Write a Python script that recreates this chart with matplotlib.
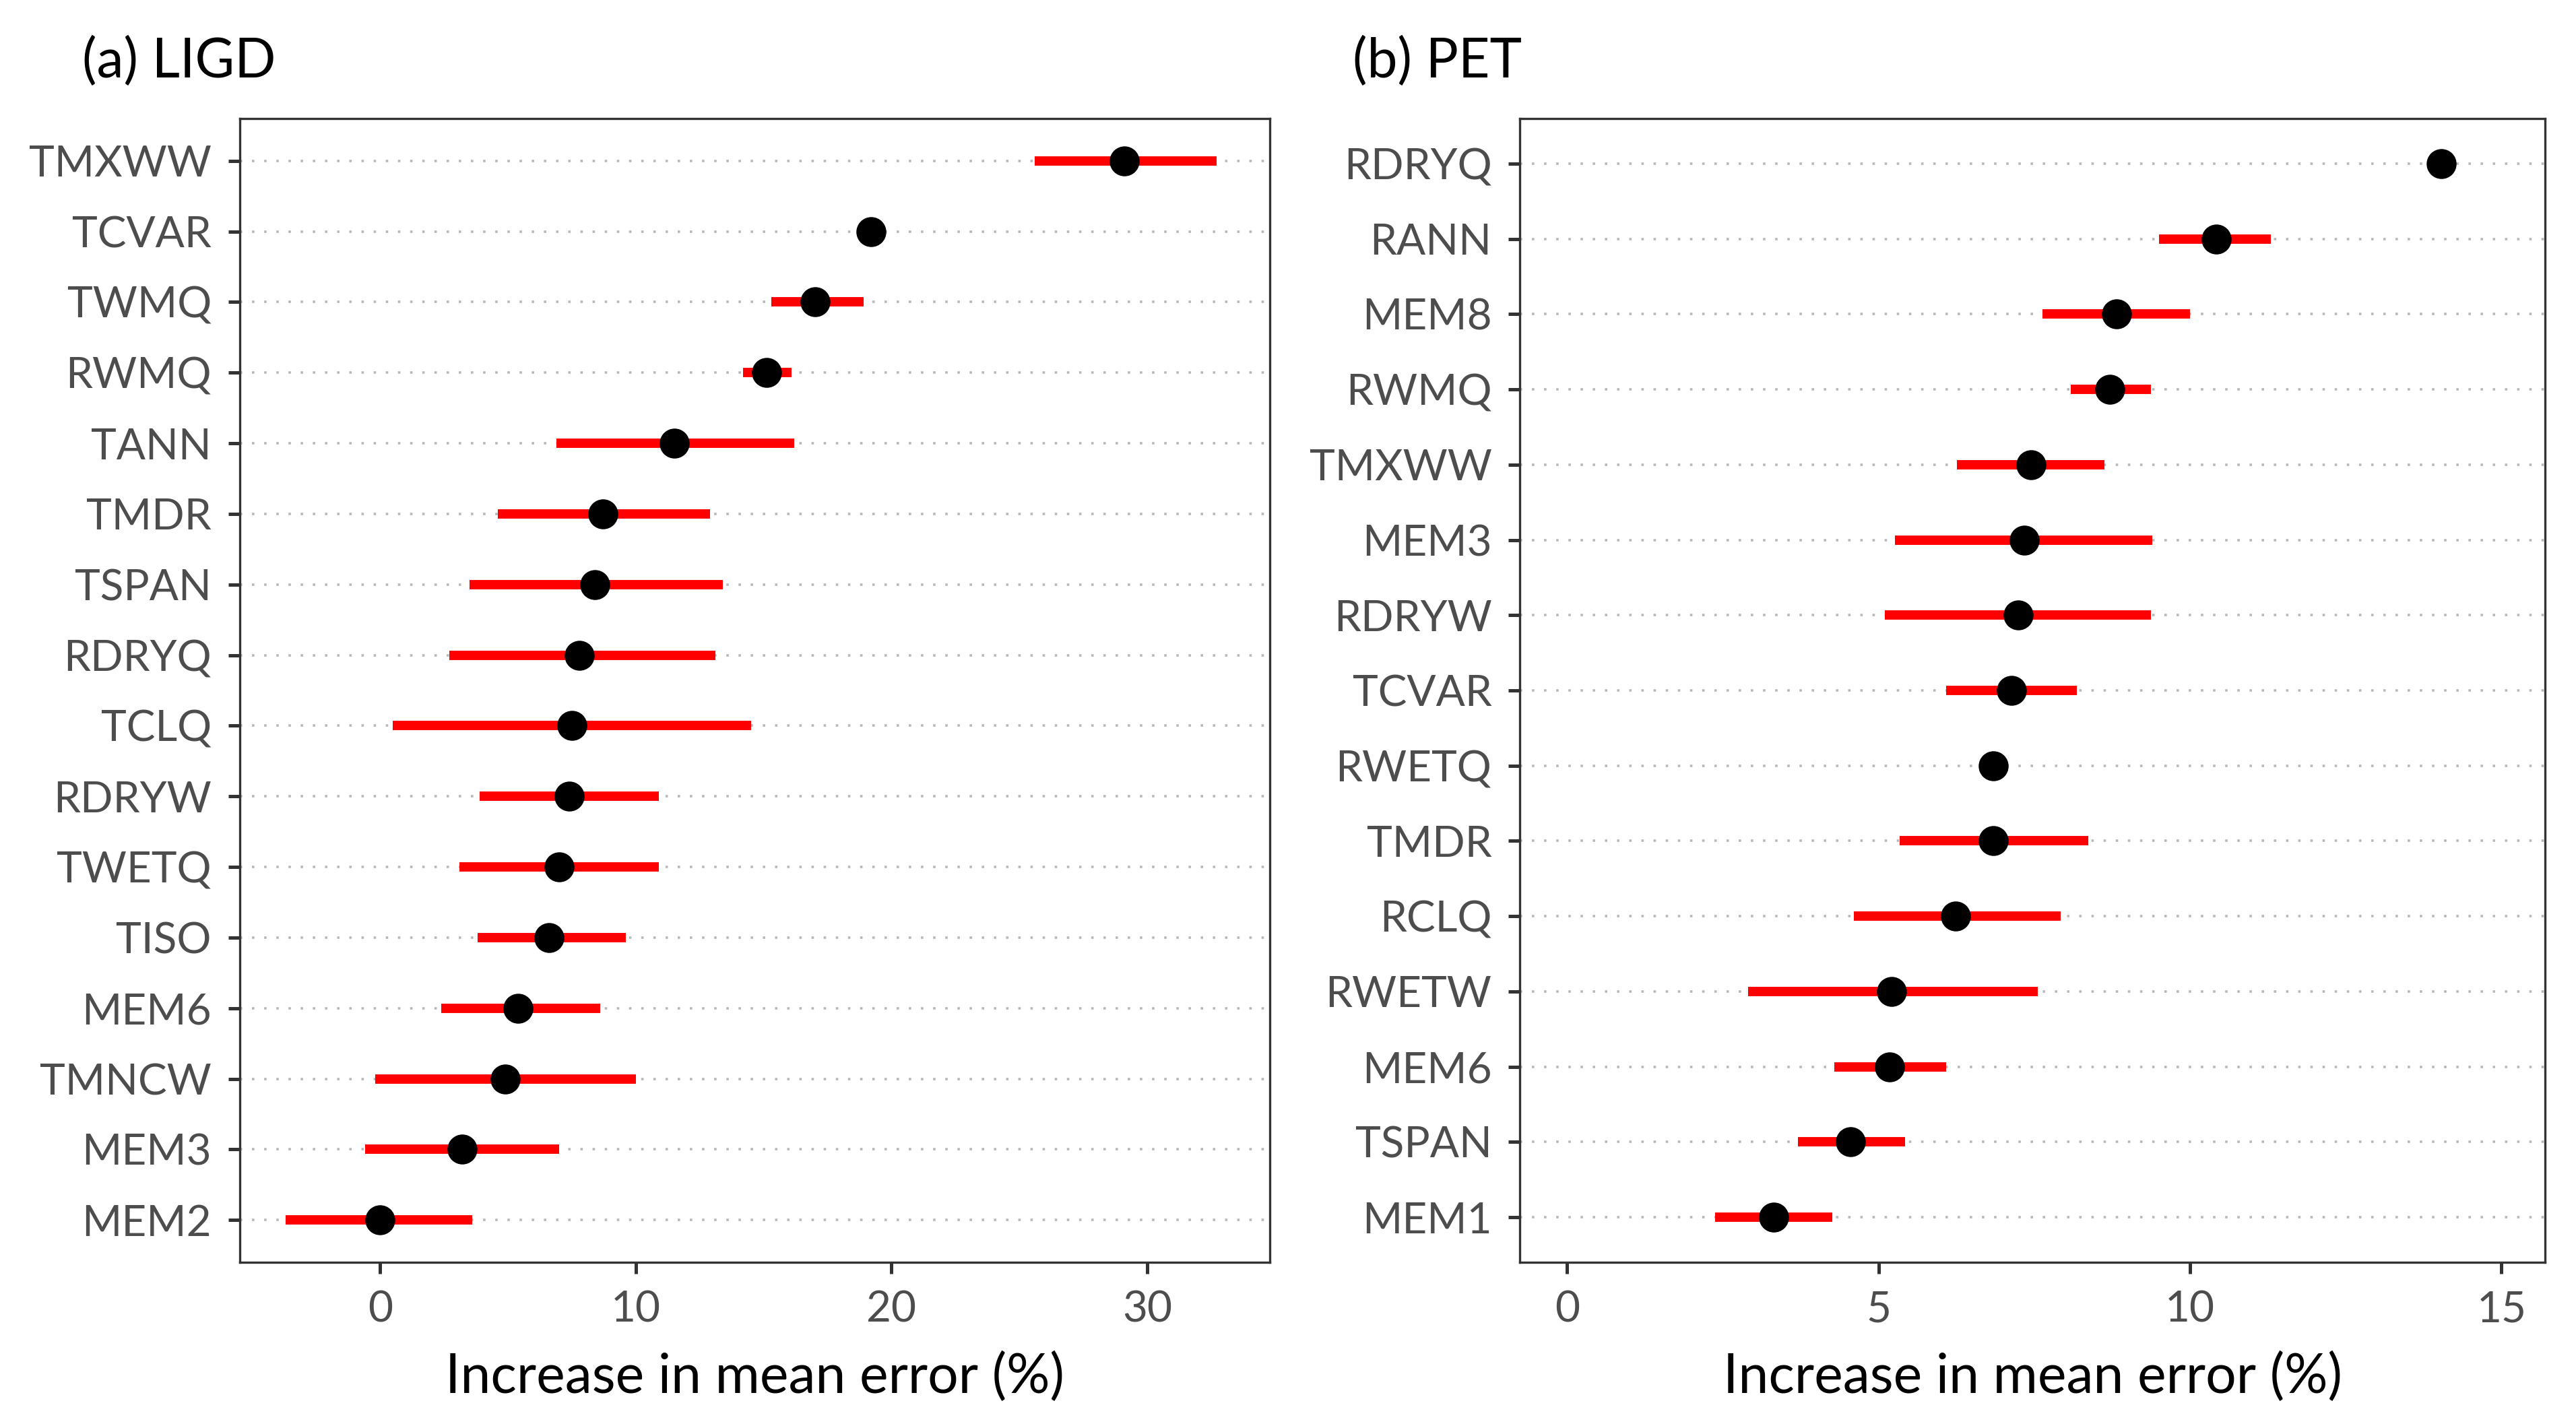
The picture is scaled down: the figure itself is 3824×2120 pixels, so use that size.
import matplotlib
matplotlib.use("Agg")
import matplotlib.pyplot as plt

# (a) LIGD, top to bottom
ligd_vars = ["TMXWW", "TCVAR", "TWMQ", "RWMQ", "TANN", "TMDR", "TSPAN", "RDRYQ",
             "TCLQ", "RDRYW", "TWETQ", "TISO", "MEM6", "TMNCW", "MEM3", "MEM2"]
ligd_mean = [29.1, 19.2, 17.0, 15.1, 11.5, 8.7, 8.4, 7.8, 7.5, 7.4, 7.0, 6.6, 5.4, 4.9, 3.2, 0.0]
ligd_lo = [25.6, 19.2, 15.3, 14.2, 6.9, 4.6, 3.5, 2.7, 0.5, 3.9, 3.1, 3.8, 2.4, -0.2, -0.6, -3.7]
ligd_hi = [32.7, 19.2, 18.9, 16.1, 16.2, 12.9, 13.4, 13.1, 14.5, 10.9, 10.9, 9.6, 8.6, 10.0, 7.0, 3.6]

# (b) PET, top to bottom
pet_vars = ["RDRYQ", "RANN", "MEM8", "RWMQ", "TMXWW", "MEM3", "RDRYW", "TCVAR",
            "RWETQ", "TMDR", "RCLQ", "RWETW", "MEM6", "TSPAN", "MEM1"]
pet_mean = [14.03, 10.42, 8.82, 8.71, 7.45, 7.34, 7.24, 7.13, 6.84, 6.84, 6.24, 5.21, 5.18, 4.55, 3.32]
pet_lo = [14.03, 9.5, 7.63, 8.08, 6.26, 5.26, 5.1, 6.08, 6.84, 5.34, 4.6, 2.9, 4.29, 3.71, 2.37]
pet_hi = [14.03, 11.3, 10.0, 9.37, 8.63, 9.39, 9.37, 8.18, 6.84, 8.37, 7.92, 7.55, 6.08, 5.42, 4.26]

plt.rcParams.update({"font.family": ["Lato", "DejaVu Sans"]})

fig = plt.figure(figsize=(19.12, 10.6), dpi=200)
ax_a = fig.add_axes([0.093, 0.116, 0.400, 0.801])
ax_b = fig.add_axes([0.590, 0.116, 0.398, 0.801])


def panel(ax, names, mean, lo, hi, xlim, xticks, title, title_x):
    n = len(names)
    ys = list(range(n - 1, -1, -1))
    for y in ys:
        ax.axhline(y, color="#b8b8b8", linestyle=(0, (1, 4)), linewidth=1.3, zorder=0)
    ax.hlines(ys, lo, hi, color="#ff0000", linewidth=5, zorder=2)
    ax.plot(mean, ys, "o", color="black", markersize=15, zorder=3)
    ax.set_yticks(ys)
    ax.set_yticklabels(names)
    ax.set_ylim(-0.6, n - 0.4)
    ax.set_xlim(*xlim)
    ax.set_xticks(xticks)
    ax.tick_params(axis="both", labelsize=23, labelcolor="#4d4d4d", length=6, width=1.8,
                   color="#333333", pad=9)
    for s in ax.spines.values():
        s.set_color("#333333")
        s.set_linewidth(1.2)
    ax.set_xlabel("Increase in mean error (%)", fontsize=29, labelpad=12)
    fig.text(title_x, 0.957, title, fontsize=29, va="center", ha="left")


panel(ax_a, ligd_vars, ligd_mean, ligd_lo, ligd_hi, (-5.5, 34.8), [0, 10, 20, 30],
      "(a) LIGD", 0.032)
panel(ax_b, pet_vars, pet_mean, pet_lo, pet_hi, (-0.76, 15.7), [0, 5, 10, 15],
      "(b) PET", 0.525)

fig.savefig("out.png", dpi=200, facecolor="white")
